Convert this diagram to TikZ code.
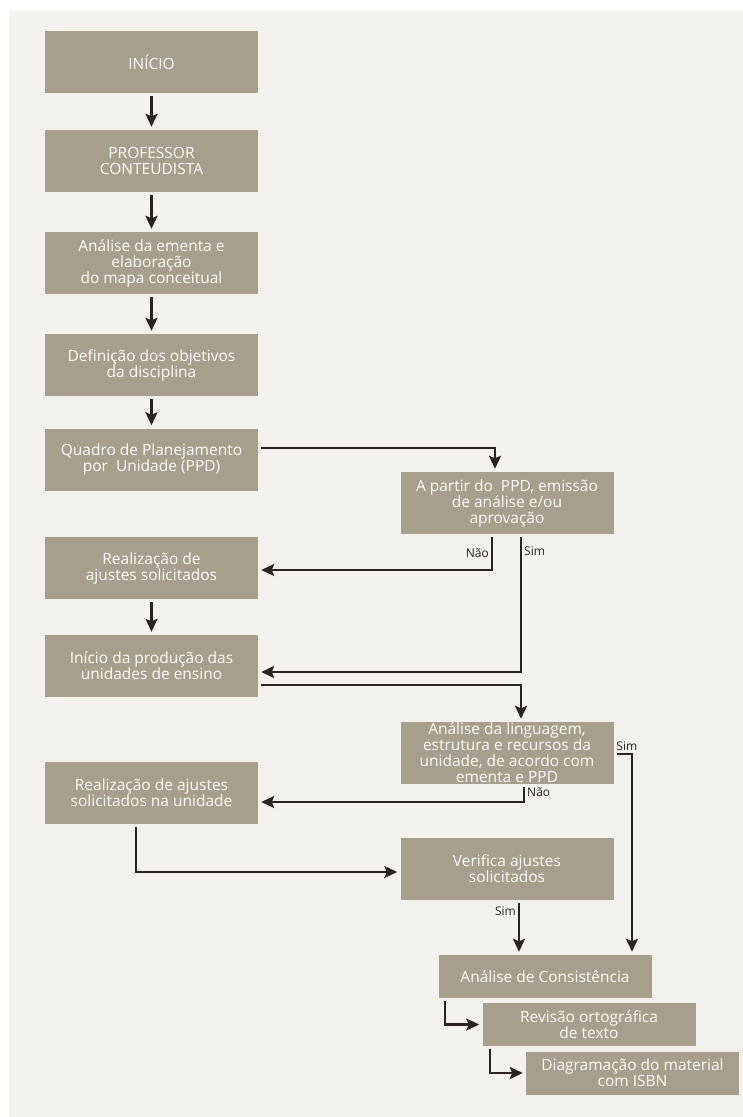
\documentclass[tikz,border=0pt]{standalone}
\usepackage{fontspec}
\setmainfont{Open Sans}
\usepackage{tikz}
\usetikzlibrary{arrows.meta}
\definecolor{boxc}{HTML}{A79F8B}
\definecolor{bgc}{HTML}{F3F2EE}
\definecolor{arrc}{HTML}{2C221E}

\begin{document}
\begin{tikzpicture}[x=1pt,y=-1pt,
  etapa/.style={fill=boxc,text=white,align=center,minimum width=213pt,minimum height=62pt,inner sep=0pt,font=\fontsize{15.5}{16}\selectfont},
  etapab/.style={etapa,minimum height=43pt},
  seta/.style={draw=arrc,line width=2.4pt,-{Stealth[length=13pt,width=12pt,inset=2.5pt]},shorten <=3pt,shorten >=3pt},
  rot/.style={text=arrc,font=\fontsize{12}{13}\selectfont,inner sep=2pt}]
\useasboundingbox (0,0) rectangle (743,1117);
\fill[bgc] (9,11) rectangle (743,1117);
\node[etapa] (inicio) at (151.5,62) {INÍCIO};
\node[etapa] (prof) at (151.5,161) {PROFESSOR\\CONTEUDISTA};
\node[etapa] (ementa) at (151.5,263) {Análise da ementa e\\elaboração\\do mapa conceitual};
\node[etapa] (objetivos) at (151.5,365) {Definição dos objetivos\\da disciplina};
\node[etapa] (quadro) at (151.5,459.5) {Quadro de Planejamento\\por\ \ Unidade (PPD)};
\node[etapa] (aprov) at (507,503) {A partir do\ \ PPD, emissão\\de análise e/ou\\aprovação};
\node[etapa] (ajustes) at (151.5,568) {Realização de\\ajustes solicitados};
\node[etapa] (producao) at (151.5,666) {Início da produção das\\unidades de ensino};
\node[etapa] (linguagem) at (507,753) {Análise da linguagem,\\estrutura e recursos da\\unidade, de acordo com\\ementa e PPD};
\node[etapa] (ajunid) at (151.5,792.5) {Realização de ajustes\\solicitados na unidade};
\node[etapa] (verifica) at (507,868.5) {Verifica ajustes\\solicitados};
\node[etapab] (consist) at (545,976.5) {Análise de Consistência};
\node[etapab] (revisao) at (589,1024.5) {Revisão ortográfica\\de texto};
\node[etapab] (diagram) at (632.5,1073) {Diagramação do material\\com ISBN};
\foreach \a/\b in {inicio/prof,prof/ementa,ementa/objetivos,objetivos/quadro,ajustes/producao}
  \draw[seta] (\a) -- (\b);
\draw[seta] ([yshift=11.5pt]quadro.east) -| ([xshift=-12pt]aprov.north);
\draw[seta] ([xshift=-15pt]aprov.south) |- node[rot,left,pos=0.26] {Não} ([yshift=-2pt]ajustes.east);
\draw[seta] ([xshift=14pt]aprov.south) |- node[rot,right,pos=0.06] {Sim} ([yshift=-6pt]producao.east);
\draw[seta] ([yshift=-19pt]producao.east) -| ([xshift=14pt]linguagem.north);
\draw[seta] ([yshift=-1pt]linguagem.east) -| node[rot,above,pos=0.36] {Sim} ([xshift=87pt]consist.north);
\draw[seta] ([xshift=17pt]linguagem.south) |- node[rot,right,pos=0.22] {Não} ([yshift=-9.5pt]ajunid.east);
\draw[seta] ([xshift=-15.5pt]ajunid.south) |- ([yshift=-3.5pt]verifica.west);
\draw[seta] ([xshift=12pt]verifica.south) -- node[rot,left,pos=0.2] {Sim} ([xshift=12pt]verifica.south |- consist.north);
\draw[seta] ([xshift=-100pt]consist.south) |- (revisao.west);
\draw[seta] ([xshift=-99pt]revisao.south) |- (diagram.west);
\end{tikzpicture}
\end{document}
